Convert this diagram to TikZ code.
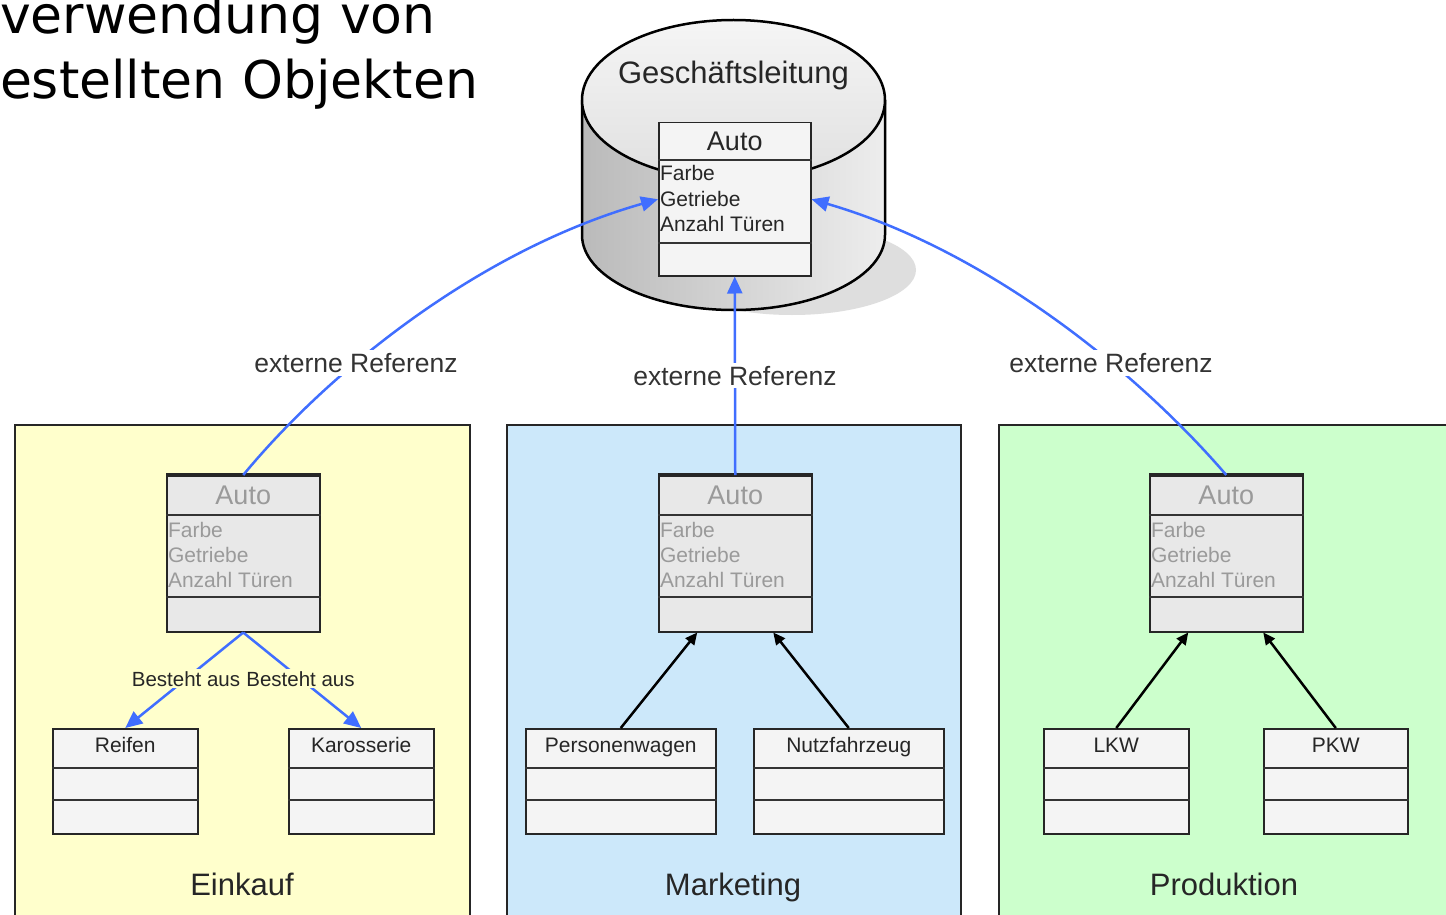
\documentclass[tikz,border=0pt]{standalone}
\usepackage{fontspec}
\setmainfont{Liberation Sans}
\newfontfamily\titlefont{DejaVu Sans}
\usetikzlibrary{arrows.meta,calc}
\definecolor{refblue}{RGB}{64,110,255}
\definecolor{einkauf}{HTML}{FFFFCC}
\definecolor{marketing}{HTML}{CCE8FA}
\definecolor{produktion}{HTML}{CCFFCC}
\definecolor{boxlight}{HTML}{F4F4F4}
\definecolor{boxgrey}{HTML}{E8E8E8}
\definecolor{greytext}{HTML}{9A9A9A}
\newcommand\myfs[1]{\fontsize{#1}{#1}\selectfont}
\tikzset{
  panel/.style={draw=black!85, line width=1.5pt},
  smallbox/.style={draw=black!85, line width=1.5pt, fill=boxlight, inner sep=0pt},
  autobox/.style={draw=black!85, line width=1.5pt, fill=boxgrey, inner sep=0pt},
  divider/.style={draw=black!80, line width=1.5pt},
  txt/.style={inner sep=0pt, outer sep=0pt},
  bluearrow/.style={draw=refblue, line width=2.5pt, -{Triangle[length=17pt,width=15pt]}},
  blackarrow/.style={draw=black, line width=2.5pt, -{Triangle[length=12pt,width=11pt]}},
  reflabel/.style={fill=white, inner sep=3pt, text=black!80, font={\myfs{26.5}}},
  complabel/.style={inner sep=2pt, text=black!85, font={\myfs{20.5}}},
}
\newcommand\smallclass[5]{%
  \node[smallbox, minimum width=#4pt, minimum height=105pt, anchor=north west] (#1) at (#2,#3) {};
  \draw[divider] ($(#1.north west)+(0,40)$) -- ($(#1.north east)+(0,40)$);
  \draw[divider] ($(#1.north west)+(0,72)$) -- ($(#1.north east)+(0,72)$);
  \node[txt, anchor=base, font={\myfs{21}}, text=black!85] (#1-t) at ($(#1.north)+(0,24)$) {#5};
}
\newcommand\lowerauto[3]{%
  \node[autobox, minimum width=153pt, minimum height=156pt, anchor=north west] (#1) at (#2,#3) {};
  \draw[black!85, line width=4pt] (#1.north west) -- (#1.north east);
  \draw[divider] ($(#1.north west)+(0,40)$) -- ($(#1.north east)+(0,40)$);
  \draw[divider] ($(#1.north west)+(0,122)$) -- ($(#1.north east)+(0,122)$);
  \node[txt, anchor=base, font={\myfs{27}}, text=greytext] (#1-t) at ($(#1.north)+(0,29)$) {Auto};
  \node[txt, anchor=base west, font={\myfs{21}}, text=greytext] (#1-a1) at ($(#1.north west)+(2,62)$) {Farbe};
  \node[txt, anchor=base west, font={\myfs{21}}, text=greytext] (#1-a2) at ($(#1.north west)+(2,87)$) {Getriebe};
  \node[txt, anchor=base west, font={\myfs{21}}, text=greytext] (#1-a3) at ($(#1.north west)+(2,112)$) {Anzahl Türen};
}
\begin{document}
\begin{tikzpicture}[x=1pt,y=-1pt]
\useasboundingbox (0,0) rectangle (1446,915);
\fill[white] (0,0) rectangle (1446,915);

% title
\node[txt, anchor=base west, font={\titlefont\myfs{52}}] (title1) at (0,34) {verwendung von};
\node[txt, anchor=base west, font={\titlefont\myfs{52}}] (title2) at (0,99) {estellten Objekten};

% panels
\fill[einkauf] (15,425) rectangle (470,916);
\draw[panel] (15,917) -- (15,425) -- (470,425) -- (470,917);
\fill[marketing] (507,425) rectangle (961,916);
\draw[panel] (507,917) -- (507,425) -- (961,425) -- (961,917);
\fill[produktion] (999,425) rectangle (1447,916);
\draw[panel] (999,917) -- (999,425) -- (1447,425);

% cylinder
\fill[black!13] (792,270) ellipse[x radius=124, y radius=45];
\shade[left color=black!27, right color=black!7]
  (582,100) -- (582,235) arc[start angle=180, end angle=0, x radius=151.5, y radius=75] -- (885,100) -- cycle;
\draw[black, line width=2.5pt]
  (582,100) -- (582,235) arc[start angle=180, end angle=0, x radius=151.5, y radius=75] -- (885,100);
\shade[top color=black!4, bottom color=black!12] (733.5,100) ellipse[x radius=151.5, y radius=80];
\draw[black, line width=2.5pt] (733.5,100) ellipse[x radius=151.5, y radius=80];
\node[txt, anchor=base, font={\myfs{31}}, text=black!85] (gl) at (733.5,84) {Geschäftsleitung};

% top Auto class
\node[smallbox, minimum width=152pt, minimum height=153pt, anchor=north west] (gA) at (658,122) {};
\draw[divider] ($(gA.north west)+(0,38)$) -- ($(gA.north east)+(0,38)$);
\draw[divider] ($(gA.north west)+(0,121)$) -- ($(gA.north east)+(0,121)$);
\node[txt, anchor=base, font={\myfs{27}}, text=black!85] (gA-t) at ($(gA.north)+(0,28)$) {Auto};
\node[txt, anchor=base west, font={\myfs{21}}, text=black!85] (gA-a1) at ($(gA.north west)+(2,58)$) {Farbe};
\node[txt, anchor=base west, font={\myfs{21}}, text=black!85] (gA-a2) at ($(gA.north west)+(2,84)$) {Getriebe};
\node[txt, anchor=base west, font={\myfs{21}}, text=black!85] (gA-a3) at ($(gA.north west)+(2,109)$) {Anzahl Türen};

% lower Auto classes
\lowerauto{eA}{166}{475}
\lowerauto{mA}{658}{475}
\lowerauto{pA}{1149}{475}

% small classes
\smallclass{rei}{52}{728}{145}{Reifen}
\smallclass{kar}{288}{728}{145}{Karosserie}
\smallclass{per}{525}{728}{190}{Personenwagen}
\smallclass{nut}{753}{728}{190}{Nutzfahrzeug}
\smallclass{lkw}{1043}{728}{145}{LKW}
\smallclass{pkw}{1263}{728}{144}{PKW}

% panel labels
\node[txt, anchor=base, font={\myfs{31}}, text=black!85] (lblE) at (242,895) {Einkauf};
\node[txt, anchor=base, font={\myfs{31}}, text=black!85] (lblM) at (733,895) {Marketing};
\node[txt, anchor=base, font={\myfs{31}}, text=black!85] (lblP) at (1224,895) {Produktion};

% external references
\draw[bluearrow] (eA.north) .. controls (330,370) and (480,250) .. (gA.west)
  node[reflabel, pos=0.35] (ref1) {externe Referenz};
\draw[bluearrow] (mA.north) -- (gA.south)
  node[reflabel, pos=0.5] (ref2) {externe Referenz};
\draw[bluearrow] (pA.north) .. controls (1136,370) and (986,250) .. (gA.east)
  node[reflabel, pos=0.35] (ref3) {externe Referenz};

% compositions
\draw[bluearrow] (eA.south) -- (rei.north) node[complabel, pos=0.485, fill=einkauf] (comp1) {Besteht aus};
\draw[bluearrow] (eA.south) -- (kar.north) node[complabel, pos=0.485, fill=einkauf] (comp2) {Besteht aus};

% inheritance
\coordinate (mAl) at ($(mA.south)+(-38,0)$);
\coordinate (mAr) at ($(mA.south)+(38,0)$);
\coordinate (pAl) at ($(pA.south)+(-38,0)$);
\coordinate (pAr) at ($(pA.south)+(37,0)$);
\draw[blackarrow] (per.north) -- (mAl);
\draw[blackarrow] (nut.north) -- (mAr);
\draw[blackarrow] (lkw.north) -- (pAl);
\draw[blackarrow] (pkw.north) -- (pAr);
\end{tikzpicture}
\end{document}
